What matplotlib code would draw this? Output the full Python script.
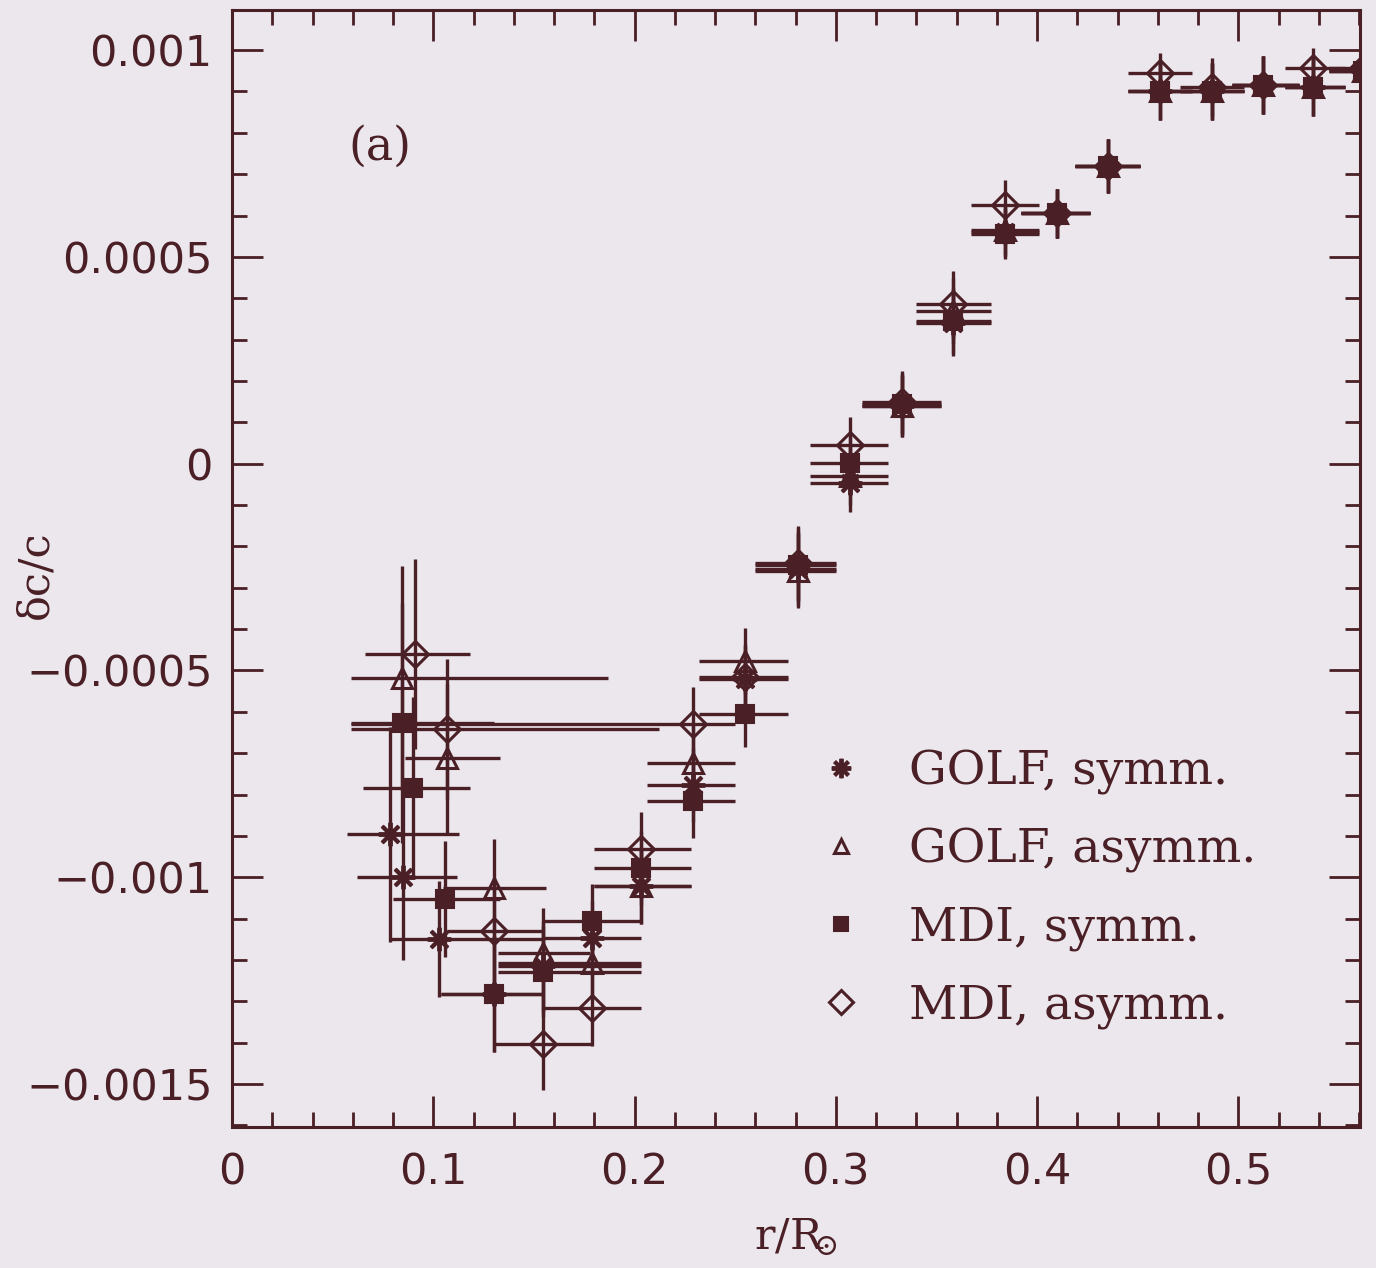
import matplotlib
matplotlib.use("Agg")
import matplotlib.pyplot as plt
import numpy as np
from matplotlib.lines import Line2D
from matplotlib.ticker import MultipleLocator, FixedLocator

INK = "#4a1f26"
PAPER = "#ebe7ed"

# GOLF, symmetric (asterisks)
golf_s_x = [0.0785, 0.085, 0.103, 0.130, 0.1545, 0.179, 0.203, 0.229, 0.255, 0.281, 0.307,
            0.333, 0.358, 0.384, 0.410, 0.435, 0.461, 0.487, 0.512, 0.537, 0.562]
golf_s_y = [-0.000896, -0.001000, -0.001150, -0.001283, -0.001215, -0.001147, -0.001022,
            -0.000777, -0.000521, -0.000255, -0.000046, 0.000140, 0.000340, 0.000560,
            0.000605, 0.000720, 0.000900, 0.000900, 0.000915, 0.000910, 0.000950]
golf_s_lo = [0.057, 0.062, 0.0785, 0.104, 0.132, 0.155, 0.180, 0.206, 0.232, 0.260, 0.287,
             0.313, 0.340, 0.367, 0.392, 0.419, 0.445, 0.471, 0.497, 0.523, 0.545]
golf_s_hi = [0.113, 0.112, 0.1545, 0.1545, 0.203, 0.203, 0.228, 0.250, 0.276, 0.300, 0.326,
             0.352, 0.377, 0.401, 0.426, 0.451, 0.477, 0.503, 0.530, 0.553, 0.580]
golf_s_dy = [0.00026, 0.00020, 0.00014, 0.00014, 0.00011, 0.00009, 0.00009, 0.00009, 0.00008,
             0.00009, 0.00007, 0.000075, 0.00008, 0.00006, 0.00006, 0.000065, 0.00007,
             0.00007, 0.00007, 0.00007, 0.00007]

# GOLF, asymmetric (open triangles)
golf_a_x = [0.0845, 0.107, 0.130, 0.1545, 0.179, 0.203, 0.229, 0.255, 0.281, 0.307, 0.333,
            0.358, 0.384, 0.410, 0.435, 0.461, 0.487, 0.512, 0.537, 0.562]
golf_a_y = [-0.000518, -0.000712, -0.001027, -0.001184, -0.001208, -0.001022, -0.000724,
            -0.000477, -0.000260, -0.000029, 0.000140, 0.000370, 0.000565, 0.000605,
            0.000720, 0.000900, 0.000900, 0.000915, 0.000910, 0.000950]
golf_a_lo = [0.059, 0.086, 0.105, 0.132, 0.132, 0.180, 0.206, 0.232, 0.260, 0.287, 0.313,
             0.340, 0.367, 0.392, 0.419, 0.445, 0.471, 0.497, 0.523, 0.545]
golf_a_hi = [0.187, 0.133, 0.156, 0.178, 0.203, 0.228, 0.250, 0.276, 0.300, 0.326, 0.352,
             0.377, 0.401, 0.426, 0.451, 0.477, 0.503, 0.530, 0.553, 0.580]
golf_a_dy = [0.00027, 0.00018, 0.00012, 0.00011, 0.00009, 0.00009, 0.00009, 0.00008, 0.00009,
             0.00007, 0.000075, 0.00008, 0.00006, 0.00006, 0.000065, 0.00007, 0.00007,
             0.00007, 0.00007, 0.00007]

# MDI, symmetric (filled squares)
mdi_s_x = [0.0845, 0.090, 0.106, 0.130, 0.1545, 0.179, 0.203, 0.229, 0.255, 0.281, 0.307,
           0.333, 0.358, 0.384, 0.410, 0.435, 0.461, 0.487, 0.512, 0.537, 0.562]
mdi_s_y = [-0.000627, -0.000785, -0.001053, -0.001283, -0.001228, -0.001107, -0.000978,
           -0.000816, -0.000605, -0.000245, 0.000002, 0.000145, 0.000345, 0.000555,
           0.000605, 0.000720, 0.000900, 0.000900, 0.000915, 0.000910, 0.000950]
mdi_s_lo = [0.059, 0.065, 0.080, 0.104, 0.132, 0.155, 0.180, 0.206, 0.232, 0.260, 0.287,
            0.313, 0.340, 0.367, 0.392, 0.419, 0.445, 0.471, 0.497, 0.523, 0.545]
mdi_s_hi = [0.130, 0.118, 0.133, 0.1545, 0.203, 0.203, 0.228, 0.250, 0.276, 0.300, 0.326,
            0.352, 0.377, 0.401, 0.426, 0.451, 0.477, 0.503, 0.530, 0.553, 0.580]
mdi_s_dy = [0.00029, 0.00022, 0.00014, 0.00014, 0.00011, 0.00009, 0.00009, 0.00009, 0.00008,
            0.00009, 0.00007, 0.000075, 0.00008, 0.00006, 0.00006, 0.000065, 0.00007,
            0.00007, 0.00007, 0.00007, 0.00007]

# MDI, asymmetric (open diamonds)
mdi_a_x = [0.091, 0.107, 0.130, 0.1545, 0.179, 0.203, 0.229, 0.255, 0.281, 0.307, 0.333,
           0.358, 0.384, 0.410, 0.435, 0.461, 0.487, 0.512, 0.537, 0.562]
mdi_a_y = [-0.000460, -0.000642, -0.001131, -0.001404, -0.001317, -0.000932, -0.000630,
           -0.000515, -0.000240, 0.000044, 0.000150, 0.000385, 0.000625, 0.000605,
           0.000720, 0.000944, 0.000910, 0.000915, 0.000956, 0.000956]
mdi_a_lo = [0.066, 0.059, 0.107, 0.130, 0.155, 0.180, 0.059, 0.232, 0.260, 0.287, 0.313,
            0.340, 0.367, 0.392, 0.419, 0.445, 0.471, 0.497, 0.523, 0.545]
mdi_a_hi = [0.118, 0.212, 0.1545, 0.179, 0.203, 0.228, 0.250, 0.276, 0.300, 0.326, 0.352,
            0.377, 0.401, 0.426, 0.451, 0.477, 0.503, 0.530, 0.553, 0.580]
mdi_a_dy = [0.00023, 0.00017, 0.00013, 0.00011, 0.00009, 0.00009, 0.00009, 0.00008, 0.00009,
            0.00007, 0.000075, 0.00008, 0.00006, 0.00006, 0.000065, 0.00005, 0.00007,
            0.00007, 0.00005, 0.00007]

labels = ["GOLF, symm.", "GOLF, asymm.", "MDI, symm.", "MDI, asymm."]
y_ticks = [0.001, 0.0005, 0.0, -0.0005, -0.001, -0.0015]
y_tick_labels = ["0.001", "0.0005", "0", "\u22120.0005", "\u22120.001", "\u22120.0015"]
x_ticks = [0.0, 0.1, 0.2, 0.3, 0.4, 0.5]
x_tick_labels = ["0", "0.1", "0.2", "0.3", "0.4", "0.5"]

plt.rcParams["mathtext.fontset"] = "dejavuserif"

fig = plt.figure(figsize=(13.76, 12.68), dpi=100, facecolor=PAPER)
ax = fig.add_axes([0.1686, 0.1112, 0.8198, 0.8809], facecolor=PAPER)

series = [
    (golf_s_x, golf_s_y, golf_s_lo, golf_s_hi, golf_s_dy, dict(marker=(8, 2, 0), ms=17, mfc=INK, mew=2.8)),
    (golf_a_x, golf_a_y, golf_a_lo, golf_a_hi, golf_a_dy, dict(marker="^", ms=14, mfc="none", mew=2.2)),
    (mdi_s_x, mdi_s_y, mdi_s_lo, mdi_s_hi, mdi_s_dy, dict(marker="s", ms=13, mfc=INK, mew=1.5)),
    (mdi_a_x, mdi_a_y, mdi_a_lo, mdi_a_hi, mdi_a_dy, dict(marker="D", ms=13, mfc="none", mew=2.2)),
]

for x, y, lo, hi, dy, mk in series:
    x = np.array(x)
    xerr = [x - np.array(lo), np.array(hi) - x]
    ax.errorbar(x, y, xerr=xerr, yerr=dy, fmt="none", ecolor=INK, elinewidth=2.4,
                capsize=0)
    ax.plot(x, y, ls="none", color=INK, mec=INK, **mk)

ax.set_xlim(0, 0.5604)
ax.set_ylim(-0.001604, 0.001097)

ax.xaxis.set_major_locator(FixedLocator(x_ticks))
ax.set_xticklabels(x_tick_labels)
ax.yaxis.set_major_locator(FixedLocator(y_ticks))
ax.set_yticklabels(y_tick_labels)
ax.xaxis.set_minor_locator(MultipleLocator(0.02))
ax.yaxis.set_minor_locator(MultipleLocator(0.0001))
ax.tick_params(which="both", direction="in", top=True, right=True, color=INK, width=2)
ax.tick_params(which="major", length=22, labelsize=31, labelcolor=INK)
ax.tick_params(which="minor", length=11)
ax.tick_params(axis="y", pad=14)
ax.tick_params(axis="x", pad=18)
for s in ax.spines.values():
    s.set_color(INK)
    s.set_linewidth(2.2)

ax.text(0.103, 0.877, "(a)", transform=ax.transAxes, family="DejaVu Serif",
        fontsize=33, color=INK, va="center")
fig.text(0.026, 0.5465, "\u03b4c/c", rotation=90, family="DejaVu Serif", fontsize=31,
         color=INK, ha="center", va="center")
fig.text(0.578, 0.024, r"r/R$_{\!\!\!\odot}$", family="DejaVu Serif", fontsize=31,
         color=INK, ha="center", va="center")

handles = [Line2D([], [], ls="none", color=INK, mec=INK, **s[5]) for s in series]
for h, size in zip(handles, [14, 10, 10, 12]):
    h.set_markersize(size)
leg = ax.legend(handles, labels, loc="upper left", bbox_to_anchor=(0.5186, 0.338),
                frameon=False, borderaxespad=0, borderpad=0, handlelength=1.0,
                handletextpad=0.95, labelspacing=0.68,
                prop=dict(family="DejaVu Serif", size=34))
for t in leg.get_texts():
    t.set_color(INK)

fig.savefig("out.png", dpi=100, facecolor=PAPER)
